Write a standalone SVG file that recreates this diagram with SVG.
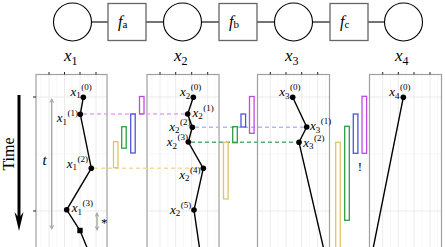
<svg xmlns="http://www.w3.org/2000/svg" width="445" height="247" viewBox="0 0 445 247">
<style>
.bg{fill:#fff}
.var{fill:#fff;stroke:#000;stroke-width:1.1}
.fac{fill:#fff;stroke:#666;stroke-width:1.3}
.edge{stroke:#000;stroke-width:1.1}
.lbl{font-family:"Liberation Serif","Times New Roman",serif;fill:#000}
.it{font-style:italic}
.frame{fill:none;stroke:#a0a0a0;stroke-width:1.2}
.gmaj{stroke:#e6e6e6;stroke-width:0.8}
.gmin{stroke:#f3f3f3;stroke-width:0.6}
.tick{stroke:#222;stroke-width:1}
.traj{fill:none;stroke:#000;stroke-width:1.4}
.pt{fill:#000}
.dash{fill:none;stroke-width:1.4;stroke-dasharray:4 3}
.box{fill:none;stroke-width:1.3}
.yel{stroke:#e2c36a}
.grn{stroke:#2f9e44}
.blu{stroke:#4a55e0}
.mag{stroke:#c24ae0}
.gray{stroke:#aaa;stroke-width:1.5;fill:none}
</style>
<defs>
<marker id="ga" viewBox="0 0 10 10" refX="8" refY="5" markerWidth="5" markerHeight="5" orient="auto-start-reverse" markerUnits="userSpaceOnUse">
<path d="M0,0 L10,5 L0,10 L3,5 Z" fill="#aaa"/>
</marker>
</defs>
<rect class="bg" x="0" y="0" width="445" height="247"/>

<!-- factor graph -->
<g id="fg-edges">
<line class="edge" x1="91.5" y1="22" x2="108" y2="22"/>
<line class="edge" x1="146" y1="22" x2="163.5" y2="22"/>
<line class="edge" x1="201.5" y1="22" x2="219" y2="22"/>
<line class="edge" x1="257" y1="22" x2="274.5" y2="22"/>
<line class="edge" x1="312.5" y1="22" x2="330" y2="22"/>
<line class="edge" x1="368" y1="22" x2="384.5" y2="22"/>
</g>
<g id="node-x1"><circle class="var" cx="72.5" cy="22" r="19"/><text class="lbl" x="64" y="61" font-size="17"><tspan class="it">x</tspan><tspan font-size="12" dy="4">1</tspan></text></g>
<g id="node-fa"><rect class="fac" x="108" y="3.5" width="38" height="37"/><text class="lbl" x="118" y="27" font-size="16"><tspan class="it">f</tspan><tspan font-size="11" dy="1">a</tspan></text></g>
<g id="node-x2"><circle class="var" cx="182.5" cy="22" r="19"/><text class="lbl" x="174" y="61" font-size="17"><tspan class="it">x</tspan><tspan font-size="12" dy="4">2</tspan></text></g>
<g id="node-fb"><rect class="fac" x="219" y="3.5" width="38" height="37"/><text class="lbl" x="229" y="27" font-size="16"><tspan class="it">f</tspan><tspan font-size="11" dy="1">b</tspan></text></g>
<g id="node-x3"><circle class="var" cx="293.5" cy="22" r="19"/><text class="lbl" x="285" y="61" font-size="17"><tspan class="it">x</tspan><tspan font-size="12" dy="4">3</tspan></text></g>
<g id="node-fc"><rect class="fac" x="330" y="3.5" width="38" height="37"/><text class="lbl" x="340" y="27" font-size="16"><tspan class="it">f</tspan><tspan font-size="11" dy="1">c</tspan></text></g>
<g id="node-x4"><circle class="var" cx="403.5" cy="22" r="19"/><text class="lbl" x="395" y="61" font-size="17"><tspan class="it">x</tspan><tspan font-size="12" dy="4">4</tspan></text></g>

<!-- Time arrow -->
<g id="time">
<line x1="19" y1="95" x2="19" y2="218" stroke="#000" stroke-width="3"/>
<path d="M19,231 L14.5,212 L19,218 L23.5,212 Z" fill="#000"/>
<text class="lbl" font-size="16" text-anchor="middle" transform="translate(13.5,154) rotate(-90)">Time</text>
</g>

<!-- panels -->
<g id="panel1">
<g>
<line class="gmin" x1="41" y1="75" x2="41" y2="247"/><line class="gmin" x1="57" y1="75" x2="57" y2="247"/><line class="gmin" x1="72" y1="75" x2="72" y2="247"/><line class="gmin" x1="88" y1="75" x2="88" y2="247"/><line class="gmin" x1="103" y1="75" x2="103" y2="247"/>
<line class="gmaj" x1="49" y1="75" x2="49" y2="247"/><line class="gmaj" x1="64.5" y1="75" x2="64.5" y2="247"/><line class="gmaj" x1="80" y1="75" x2="80" y2="247"/><line class="gmaj" x1="96" y1="75" x2="96" y2="247"/>
<line class="gmaj" x1="36" y1="97" x2="107" y2="97"/><line class="gmin" x1="36" y1="154" x2="107" y2="154"/><line class="gmaj" x1="36" y1="211" x2="107" y2="211"/>
</g>
<rect class="frame" x="36" y="74.5" width="71" height="180"/>
<line class="tick" x1="49" y1="72" x2="49" y2="74.5"/><line class="tick" x1="64.5" y1="72" x2="64.5" y2="74.5"/><line class="tick" x1="80" y1="72" x2="80" y2="74.5"/><line class="tick" x1="96" y1="72" x2="96" y2="74.5"/>
<line class="tick" x1="33" y1="97" x2="36" y2="97"/><line class="tick" x1="33" y1="211" x2="36" y2="211"/>
<line class="gray" x1="51.7" y1="99" x2="51.7" y2="229" marker-start="url(#ga)" marker-end="url(#ga)"/>
<text class="lbl it" x="42.5" y="165" font-size="15">t</text>
<line class="gray" x1="97" y1="213" x2="97" y2="230" marker-start="url(#ga)" marker-end="url(#ga)"/>
<text class="lbl" x="101" y="227" font-size="13">*</text>
<polyline class="traj" points="83.3,97.3 80.3,114.3 91.3,168.3 66.7,209.8 80,230.5 88,250"/>
<circle class="pt" cx="83.3" cy="97.3" r="2.8"/><circle class="pt" cx="80.3" cy="114.3" r="2.8"/><circle class="pt" cx="91.3" cy="168.3" r="2.8"/><circle class="pt" cx="66.7" cy="209.8" r="2.8"/>
<rect class="pt" x="77.3" y="227.8" width="5.4" height="5.4"/>
</g>

<g id="panel2">
<g>
<line class="gmin" x1="152" y1="75" x2="152" y2="247"/><line class="gmin" x1="168" y1="75" x2="168" y2="247"/><line class="gmin" x1="183.5" y1="75" x2="183.5" y2="247"/><line class="gmin" x1="199.5" y1="75" x2="199.5" y2="247"/><line class="gmin" x1="215" y1="75" x2="215" y2="247"/>
<line class="gmaj" x1="160" y1="75" x2="160" y2="247"/><line class="gmaj" x1="175.7" y1="75" x2="175.7" y2="247"/><line class="gmaj" x1="191.7" y1="75" x2="191.7" y2="247"/><line class="gmaj" x1="207.7" y1="75" x2="207.7" y2="247"/>
<line class="gmaj" x1="147" y1="97" x2="219" y2="97"/><line class="gmin" x1="147" y1="154" x2="219" y2="154"/><line class="gmaj" x1="147" y1="211" x2="219" y2="211"/>
</g>
<rect class="frame" x="147" y="74.5" width="72" height="180"/>
<line class="tick" x1="160" y1="72" x2="160" y2="74.5"/><line class="tick" x1="175.7" y1="72" x2="175.7" y2="74.5"/><line class="tick" x1="191.7" y1="72" x2="191.7" y2="74.5"/><line class="tick" x1="207.7" y1="72" x2="207.7" y2="74.5"/>
<polyline class="traj" points="193.3,97.3 187.7,114 192.3,127.3 188.3,142 203.3,168.3 194,210 199.8,250"/>
<circle class="pt" cx="193.3" cy="97.3" r="2.8"/><circle class="pt" cx="187.7" cy="114" r="2.8"/><circle class="pt" cx="192.3" cy="127.3" r="2.8"/><circle class="pt" cx="188.3" cy="142" r="2.8"/><circle class="pt" cx="203.3" cy="168.3" r="2.8"/><circle class="pt" cx="194" cy="210" r="2.8"/>
</g>

<g id="panel3">
<g>
<line class="gmin" x1="262.5" y1="75" x2="262.5" y2="247"/><line class="gmin" x1="278" y1="75" x2="278" y2="247"/><line class="gmin" x1="294" y1="75" x2="294" y2="247"/><line class="gmin" x1="309.5" y1="75" x2="309.5" y2="247"/><line class="gmin" x1="325.5" y1="75" x2="325.5" y2="247"/>
<line class="gmaj" x1="270.3" y1="75" x2="270.3" y2="247"/><line class="gmaj" x1="286" y1="75" x2="286" y2="247"/><line class="gmaj" x1="301.7" y1="75" x2="301.7" y2="247"/><line class="gmaj" x1="317.7" y1="75" x2="317.7" y2="247"/>
<line class="gmaj" x1="257.5" y1="97" x2="329.5" y2="97"/><line class="gmin" x1="257.5" y1="154" x2="329.5" y2="154"/><line class="gmaj" x1="257.5" y1="211" x2="329.5" y2="211"/>
</g>
<rect class="frame" x="257.5" y="74.5" width="72" height="180"/>
<line class="tick" x1="270.3" y1="72" x2="270.3" y2="74.5"/><line class="tick" x1="286" y1="72" x2="286" y2="74.5"/><line class="tick" x1="301.7" y1="72" x2="301.7" y2="74.5"/><line class="tick" x1="317.7" y1="72" x2="317.7" y2="74.5"/>
<polyline class="traj" points="292.7,97.3 306.7,127 299,142.3 324,250"/>
<circle class="pt" cx="292.7" cy="97.3" r="2.8"/><circle class="pt" cx="306.7" cy="127" r="2.8"/><circle class="pt" cx="299" cy="142.3" r="2.8"/>
</g>

<g id="panel4">
<g>
<line class="gmin" x1="374.5" y1="75" x2="374.5" y2="247"/><line class="gmin" x1="390.5" y1="75" x2="390.5" y2="247"/><line class="gmin" x1="406" y1="75" x2="406" y2="247"/><line class="gmin" x1="422" y1="75" x2="422" y2="247"/><line class="gmin" x1="437.5" y1="75" x2="437.5" y2="247"/>
<line class="gmaj" x1="382.7" y1="75" x2="382.7" y2="247"/><line class="gmaj" x1="398.3" y1="75" x2="398.3" y2="247"/><line class="gmaj" x1="414" y1="75" x2="414" y2="247"/><line class="gmaj" x1="430" y1="75" x2="430" y2="247"/>
<line class="gmaj" x1="369.5" y1="97" x2="441.5" y2="97"/><line class="gmin" x1="369.5" y1="154" x2="441.5" y2="154"/><line class="gmaj" x1="369.5" y1="211" x2="441.5" y2="211"/>
</g>
<rect class="frame" x="369.5" y="74.5" width="72" height="180"/>
<line class="tick" x1="382.7" y1="72" x2="382.7" y2="74.5"/><line class="tick" x1="398.3" y1="72" x2="398.3" y2="74.5"/><line class="tick" x1="414" y1="72" x2="414" y2="74.5"/><line class="tick" x1="430" y1="72" x2="430" y2="74.5"/>
<polyline class="traj" points="403.3,97.3 372.8,250"/>
<circle class="pt" cx="403.3" cy="97.3" r="2.8"/>
</g>

<!-- messages -->
<g id="connectors">
<line class="dash" x1="83" y1="114" x2="185" y2="114" stroke="#e9a3f2"/>
<line class="dash" x1="94" y1="168.3" x2="200" y2="168.3" stroke="#f0dca2"/>
<line class="dash" x1="195" y1="127.2" x2="304" y2="127.2" stroke="#b2b8f6"/>
<line class="dash" x1="191" y1="142.2" x2="296" y2="142.2" stroke="#55b070"/>
</g>

<g id="msgs-12">
<rect class="box yel" x="113.5" y="141.7" width="4.5" height="26"/>
<rect class="box grn" x="121.7" y="126.7" width="4.5" height="21.5"/>
<rect class="box blu" x="130.7" y="114" width="4.5" height="39"/>
<rect class="box mag" x="139.5" y="96.5" width="4.5" height="17.5"/>
</g>
<g id="msgs-23">
<rect class="box yel" x="223.5" y="142.3" width="4.6" height="56.7"/>
<rect class="box grn" x="232.7" y="126.7" width="4.6" height="16"/>
<rect class="box blu" x="241" y="114" width="4.6" height="13"/>
<rect class="box mag" x="249.5" y="96.5" width="4.6" height="36.8"/>
</g>
<g id="msgs-34">
<rect class="box yel" x="335.7" y="142.3" width="4.6" height="108"/>
<rect class="box grn" x="344.7" y="126.3" width="4.6" height="94"/>
<rect class="box blu" x="353.3" y="114" width="4.6" height="39.3"/>
<rect class="box mag" x="362" y="96.3" width="4.6" height="57"/>
<text class="lbl" x="359.8" y="171" font-size="13" text-anchor="middle">!</text>
</g>

<!-- point labels -->
<g id="labels" class="lbl" font-size="13">
<text x="70.5" y="95.5"><tspan class="it">x</tspan><tspan font-size="9" dy="2.5">1</tspan><tspan font-size="9" dy="-8.5" dx="0.5">(0)</tspan></text>
<text x="56.7" y="122"><tspan class="it">x</tspan><tspan font-size="9" dy="2.5">1</tspan><tspan font-size="9" dy="-8.5" dx="0.5">(1)</tspan></text>
<text x="66.7" y="167.5"><tspan class="it">x</tspan><tspan font-size="9" dy="2.5">1</tspan><tspan font-size="9" dy="-8.5" dx="0.5">(2)</tspan></text>
<text x="71.7" y="212"><tspan class="it">x</tspan><tspan font-size="9" dy="2.5">1</tspan><tspan font-size="9" dy="-8.5" dx="0.5">(3)</tspan></text>
<text x="180" y="96"><tspan class="it">x</tspan><tspan font-size="9" dy="2.5">2</tspan><tspan font-size="9" dy="-8.5" dx="0.5">(0)</tspan></text>
<text x="192.5" y="116.5"><tspan class="it">x</tspan><tspan font-size="9" dy="2.5">2</tspan><tspan font-size="9" dy="-8.5" dx="0.5">(1)</tspan></text>
<text x="169.3" y="130.5"><tspan class="it">x</tspan><tspan font-size="9" dy="2.5">2</tspan><tspan font-size="9" dy="-8.5" dx="0.5">(2)</tspan></text>
<text x="166.7" y="146"><tspan class="it">x</tspan><tspan font-size="9" dy="2.5">2</tspan><tspan font-size="9" dy="-8.5" dx="0.5">(3)</tspan></text>
<text x="179.3" y="178.7"><tspan class="it">x</tspan><tspan font-size="9" dy="2.5">2</tspan><tspan font-size="9" dy="-8.5" dx="0.5">(4)</tspan></text>
<text x="170" y="213.5"><tspan class="it">x</tspan><tspan font-size="9" dy="2.5">2</tspan><tspan font-size="9" dy="-8.5" dx="0.5">(5)</tspan></text>
<text x="279.3" y="96"><tspan class="it">x</tspan><tspan font-size="9" dy="2.5">3</tspan><tspan font-size="9" dy="-8.5" dx="0.5">(0)</tspan></text>
<text x="310" y="130.2"><tspan class="it">x</tspan><tspan font-size="9" dy="2.5">3</tspan><tspan font-size="9" dy="-8.5" dx="0.5">(1)</tspan></text>
<text x="303.3" y="146.6"><tspan class="it">x</tspan><tspan font-size="9" dy="2.5">3</tspan><tspan font-size="9" dy="-8.5" dx="0.5">(2)</tspan></text>
<text x="389.3" y="96"><tspan class="it">x</tspan><tspan font-size="9" dy="2.5">4</tspan><tspan font-size="9" dy="-8.5" dx="0.5">(0)</tspan></text>
</g>
</svg>
